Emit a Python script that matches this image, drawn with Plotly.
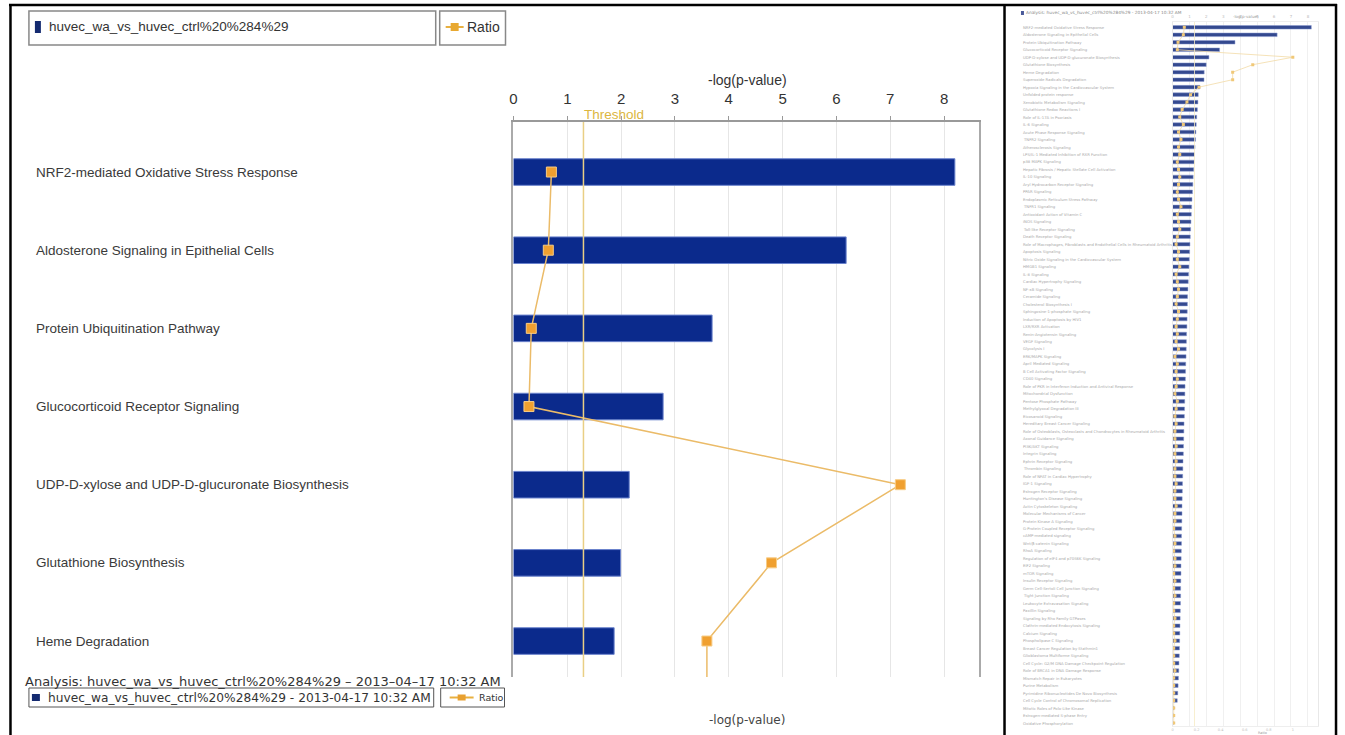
import plotly.graph_objects as go

# ---------------- data ----------------
pathways = [
    "NRF2-mediated Oxidative Stress Response",
    "Aldosterone Signaling in Epithelial Cells",
    "Protein Ubiquitination Pathway",
    "Glucocorticoid Receptor Signaling",
    "UDP-D-xylose and UDP-D-glucuronate Biosynthesis",
    "Glutathione Biosynthesis",
    "Heme Degradation",
    "Superoxide Radicals Degradation",
    "Hypoxia Signaling in the Cardiovascular System",
    "Unfolded protein response",
    "Xenobiotic Metabolism Signaling",
    "Glutathione Redox Reactions I",
    "Role of IL-17A in Psoriasis",
    "IL-6 Signaling",
    "Acute Phase Response Signaling",
    "TNFR2 Signaling",
    "Atherosclerosis Signaling",
    "LPS/IL-1 Mediated Inhibition of RXR Function",
    "p38 MAPK Signaling",
    "Hepatic Fibrosis / Hepatic Stellate Cell Activation",
    "IL-10 Signaling",
    "Aryl Hydrocarbon Receptor Signaling",
    "PPAR Signaling",
    "Endoplasmic Reticulum Stress Pathway",
    "TNFR1 Signaling",
    "Antioxidant Action of Vitamin C",
    "iNOS Signaling",
    "Toll-like Receptor Signaling",
    "Death Receptor Signaling",
    "Role of Macrophages, Fibroblasts and Endothelial Cells in Rheumatoid Arthritis",
    "Apoptosis Signaling",
    "Nitric Oxide Signaling in the Cardiovascular System",
    "HMGB1 Signaling",
    "IL-8 Signaling",
    "Cardiac Hypertrophy Signaling",
    "NF-κB Signaling",
    "Ceramide Signaling",
    "Cholesterol Biosynthesis I",
    "Sphingosine-1-phosphate Signaling",
    "Induction of Apoptosis by HIV1",
    "LXR/RXR Activation",
    "Renin-Angiotensin Signaling",
    "VEGF Signaling",
    "Glycolysis I",
    "ERK/MAPK Signaling",
    "April Mediated Signaling",
    "B Cell Activating Factor Signaling",
    "CD40 Signaling",
    "Role of PKR in Interferon Induction and Antiviral Response",
    "Mitochondrial Dysfunction",
    "Pentose Phosphate Pathway",
    "Methylglyoxal Degradation III",
    "Eicosanoid Signaling",
    "Hereditary Breast Cancer Signaling",
    "Role of Osteoblasts, Osteoclasts and Chondrocytes in Rheumatoid Arthritis",
    "Axonal Guidance Signaling",
    "PI3K/AKT Signaling",
    "Integrin Signaling",
    "Ephrin Receptor Signaling",
    "Thrombin Signaling",
    "Role of NFAT in Cardiac Hypertrophy",
    "IGF-1 Signaling",
    "Estrogen Receptor Signaling",
    "Huntington's Disease Signaling",
    "Actin Cytoskeleton Signaling",
    "Molecular Mechanisms of Cancer",
    "Protein Kinase A Signaling",
    "G-Protein Coupled Receptor Signaling",
    "cAMP-mediated signaling",
    "Wnt/β-catenin Signaling",
    "RhoA Signaling",
    "Regulation of eIF4 and p70S6K Signaling",
    "EIF2 Signaling",
    "mTOR Signaling",
    "Insulin Receptor Signaling",
    "Germ Cell-Sertoli Cell Junction Signaling",
    "Tight Junction Signaling",
    "Leukocyte Extravasation Signaling",
    "Paxillin Signaling",
    "Signaling by Rho Family GTPases",
    "Clathrin-mediated Endocytosis Signaling",
    "Calcium Signaling",
    "Phospholipase C Signaling",
    "Breast Cancer Regulation by Stathmin1",
    "Glioblastoma Multiforme Signaling",
    "Cell Cycle: G2/M DNA Damage Checkpoint Regulation",
    "Role of BRCA1 in DNA Damage Response",
    "Mismatch Repair in Eukaryotes",
    "Purine Metabolism",
    "Pyrimidine Ribonucleotides De Novo Biosynthesis",
    "Cell Cycle Control of Chromosomal Replication",
    "Mitotic Roles of Polo-Like Kinase",
    "Estrogen-mediated S-phase Entry",
    "Oxidative Phosphorylation",
]

neg_log_p = [
    8.20, 6.18, 3.69, 2.78, 2.15, 1.99, 1.87, 1.86, 1.62, 1.52, 1.50, 1.47, 1.43,
    1.40, 1.38, 1.36, 1.33, 1.30, 1.28, 1.25, 1.22, 1.20, 1.18, 1.15, 1.13, 1.11,
    1.09, 1.07, 1.05, 1.03, 1.01, 0.99, 0.97, 0.95, 0.93, 0.91, 0.89,
    0.88, 0.87, 0.86, 0.85, 0.83, 0.82, 0.81, 0.80, 0.78, 0.77, 0.76, 0.74, 0.73,
    0.72, 0.71, 0.70, 0.68, 0.67, 0.66, 0.65, 0.64, 0.62, 0.61, 0.60, 0.59, 0.58,
    0.57, 0.56, 0.56, 0.55, 0.54, 0.53, 0.53, 0.52, 0.51, 0.50, 0.50, 0.49, 0.48, 0.48,
    0.47, 0.46, 0.45, 0.44, 0.43, 0.42, 0.41, 0.40, 0.38, 0.37, 0.35, 0.33, 0.31, 0.28,
    0.09, 0.06, 0.04,
]

ratio = [
    0.098, 0.090, 0.046, 0.040, 1.000, 0.667, 0.500, 0.500, 0.220,
    0.15, 0.12, 0.08, 0.06, 0.09, 0.05, 0.07, 0.05, 0.06, 0.04, 0.05,
    0.06, 0.05, 0.04, 0.05, 0.07, 0.04, 0.05, 0.06, 0.04, 0.03,
    0.05, 0.04, 0.06, 0.03, 0.04, 0.05, 0.04, 0.03, 0.05, 0.04,
    0.03, 0.04, 0.03, 0.05, 0.02, 0.04, 0.03, 0.04, 0.03, 0.02,
    0.04, 0.03, 0.02, 0.03, 0.02, 0.02, 0.03, 0.02, 0.03, 0.02,
    0.02, 0.03, 0.02, 0.02, 0.03, 0.02, 0.02, 0.01, 0.02, 0.02,
    0.01, 0.02, 0.02, 0.01, 0.02, 0.01, 0.02, 0.01, 0.01, 0.02,
    0.01, 0.01, 0.02, 0.01, 0.01, 0.01, 0.02, 0.01, 0.01, 0.01,
    0.01, 0.01, 0.01, 0.01,
]

THRESHOLD = 1.3
neglog_ticks = [0, 1, 2, 3, 4, 5, 6, 7, 8]
ratio_ticks = [0, 0.2, 0.4, 0.6, 0.8, 1]
analysis_name = "huvec_wa_vs_huvec_ctrl%20%284%29"
analysis_stamp = "2013-04-17 10:32 AM"
LEFT_ROWS = 7

# ---------------- layout helpers ----------------
W, H = 1345, 735
def px(x):
    return x / W
def py(y):
    return 1 - y / H

NAVY = "#0b2a8c"
ORANGE = "#f0a030"
COND = "Liberation Sans, Arial, sans-serif"
SANS = "DejaVu Sans, Verdana, sans-serif"
PAD = 3  # annotation inner padding compensation (px)

fig = go.Figure()

# left (zoomed) panel
fig.add_trace(go.Bar(
    x=neg_log_p, y=pathways, orientation="h", xaxis="x", yaxis="y", width=0.34,
    marker=dict(color=NAVY, line=dict(color="#6a82cc", width=1)),
    showlegend=False, hoverinfo="x+y"))
fig.add_trace(go.Scatter(
    x=ratio, y=pathways, xaxis="x2", yaxis="y", mode="lines+markers",
    line=dict(color="#ebbb68", width=1.5),
    marker=dict(symbol="square", size=10, color=ORANGE, line=dict(color="#f7cc86", width=1)),
    showlegend=False))

# right (overview) panel
fig.add_trace(go.Bar(
    x=neg_log_p, y=pathways, orientation="h", xaxis="x3", yaxis="y3", width=0.48,
    marker=dict(color="#34498f", line=dict(color="#8a9ad0", width=0.5)),
    showlegend=False))
fig.add_trace(go.Scatter(
    x=ratio, y=pathways, xaxis="x4", yaxis="y3", mode="lines+markers",
    line=dict(color="#f2dba6", width=0.8),
    marker=dict(symbol="square", size=3, color="#f0c878"),
    showlegend=False))

left_dom_x = [px(511), px(978)]
left_dom_y = [py(677), py(122)]
right_dom_x = [px(1172), px(1318)]
right_dom_y = [py(726), py(22)]

fig.update_layout(
    width=W, height=H, autosize=False,
    margin=dict(l=0, r=0, t=0, b=0),
    paper_bgcolor="white", plot_bgcolor="white",
    barmode="overlay",
    xaxis=dict(domain=left_dom_x, anchor="y", side="top", range=[0, 8.65],
               tickvals=neglog_ticks, ticks="outside", ticklen=4, tickcolor="#999",
               ticklabelstandoff=6,
               tickfont=dict(family=COND, size=15, color="#333"),
               showgrid=True, gridcolor="#e6e6e6", gridwidth=1,
               showline=True, linecolor="#999", linewidth=1.5, zeroline=False, fixedrange=True),
    xaxis2=dict(overlaying="x", anchor="y", range=[0, 1.2036], visible=False),
    yaxis=dict(domain=left_dom_y, anchor="x", type="category",
               categoryorder="array", categoryarray=pathways,
               range=[6.46, -0.64], showticklabels=False, ticks="",
               showgrid=False, showline=True, mirror=True, linecolor="#aaa", linewidth=1.5,
               zeroline=False),
    xaxis3=dict(domain=right_dom_x, anchor="y3", side="top", range=[0, 8.6],
                tickvals=neglog_ticks, ticks="", ticklabelstandoff=1,
                tickfont=dict(family=SANS, size=4, color="#bbb"),
                showgrid=True, gridcolor="#f0f0f0", showline=True, linecolor="#eee",
                zeroline=False),
    xaxis4=dict(overlaying="x3", anchor="y3", side="bottom", range=[0, 1.21],
                tickvals=ratio_ticks, ticks="", ticklabelstandoff=0,
                tickfont=dict(family=SANS, size=3.5, color="#bbb"),
                showgrid=False, showline=True, linecolor="#eee", zeroline=False),
    yaxis3=dict(domain=right_dom_y, anchor="x3", type="category",
                categoryorder="array", categoryarray=pathways,
                range=[93.4, -0.71], showticklabels=False, ticks="",
                showgrid=False, showline=True, mirror=True, linecolor="#e8e8e8",
                zeroline=False),
)

shapes = []
ann = []

def text(t, x, y, size, family=COND, color="#333", anchor="left", **kw):
    xx = x - PAD if anchor == "left" else x
    ann.append(dict(text=t, x=px(xx), y=py(y), xref="paper", yref="paper",
                    xanchor=anchor, yanchor="middle", showarrow=False,
                    font=dict(family=family, size=size, color=color), **kw))

# threshold lines
shapes.append(dict(type="line", xref="x", yref="y domain", x0=THRESHOLD, x1=THRESHOLD,
                   y0=0, y1=1, line=dict(color="#e9cf85", width=1.5)))
shapes.append(dict(type="line", xref="x3", yref="y3 domain", x0=THRESHOLD, x1=THRESHOLD,
                   y0=0, y1=1, line=dict(color="#f6ebc4", width=0.8)))
ann.append(dict(text="Threshold", x=THRESHOLD, xref="x", y=py(115), yref="paper",
                xanchor="left", yanchor="middle", xshift=-1, showarrow=False,
                font=dict(family=COND, size=13.5, color="#dcb640")))

# axis titles
text("-log(p-value)", 746, 80, 14, anchor="center")
text("-log(p-value)", 745, 720, 12, family=SANS, color="#444", anchor="center")
text("-log(p-value)", 1246, 17, 4, family=SANS, color="#999", anchor="center")
text("Ratio", 1262, 733, 3.5, family=SANS, color="#999", anchor="center")

# left category labels (left-aligned)
for name in pathways[:LEFT_ROWS]:
    ann.append(dict(text=name, x=px(33 - PAD), xref="paper", y=name, yref="y",
                    xanchor="left", yanchor="middle", showarrow=False,
                    font=dict(family=COND, size=13.5, color="#3a3a3a")))

# right category labels
for name in pathways:
    ann.append(dict(text=name, x=px(1022 - 2), xref="paper", y=name, yref="y3",
                    xanchor="left", yanchor="middle", showarrow=False,
                    font=dict(family=SANS, size=3.8, color="#a8a8a8")))

# right panel title
text(f"Analysis: {analysis_name} - {analysis_stamp}", 1026, 13, 4.3, family=SANS, color="#888")
shapes.append(dict(type="rect", xref="paper", yref="paper", x0=px(1020), x1=px(1023),
                   y0=py(15), y1=py(11), fillcolor="#4a5a9a", line=dict(width=0)))

# top legend
shapes.append(dict(type="rect", xref="paper", yref="paper", x0=px(25), x1=px(433),
                   y0=py(45), y1=py(11), line=dict(color="#888", width=1.5), fillcolor="white"))
shapes.append(dict(type="rect", xref="paper", yref="paper", x0=px(437), x1=px(503),
                   y0=py(45), y1=py(11), line=dict(color="#888", width=1.5), fillcolor="white"))
shapes.append(dict(type="rect", xref="paper", yref="paper", x0=px(31), x1=px(37),
                   y0=py(33), y1=py(21), fillcolor="#142a70", line=dict(width=0)))
text(analysis_name, 46, 27, 13.5)
shapes.append(dict(type="line", xref="paper", yref="paper", x0=px(443), x1=px(461),
                   y0=py(27), y1=py(27), line=dict(color="#e8b040", width=2)))
shapes.append(dict(type="rect", xref="paper", yref="paper", x0=px(448), x1=px(456),
                   y0=py(31), y1=py(23), fillcolor="#e8a830", line=dict(width=0)))
text("Ratio", 465, 27, 14)

# bottom legend
text(f"Analysis: {analysis_name} – 2013–04–17 10:32 AM", 22, 681, 13, family=SANS, color="#333")
shapes.append(dict(type="rect", xref="paper", yref="paper", x0=px(25), x1=px(431),
                   y0=py(707), y1=py(688), line=dict(color="#555", width=1), fillcolor="white"))
shapes.append(dict(type="rect", xref="paper", yref="paper", x0=px(438), x1=px(502),
                   y0=py(707), y1=py(688), line=dict(color="#555", width=1), fillcolor="white"))
shapes.append(dict(type="rect", xref="paper", yref="paper", x0=px(28), x1=px(36),
                   y0=py(701), y1=py(694), fillcolor="#142a70", line=dict(width=0)))
text(f"{analysis_name} - {analysis_stamp}", 45, 697.5, 12.2, family=SANS)
shapes.append(dict(type="line", xref="paper", yref="paper", x0=px(447), x1=px(471),
                   y0=py(697.5), y1=py(697.5), line=dict(color="#e8b040", width=2)))
shapes.append(dict(type="rect", xref="paper", yref="paper", x0=px(455), x1=px(463),
                   y0=py(700.5), y1=py(694.5), fillcolor="#e8a030", line=dict(width=0)))
text("Ratio", 477, 697.5, 9.5, family=SANS)

# outer black frame
frame = dict(color="black", width=2.5)
shapes.append(dict(type="line", xref="paper", yref="paper", x0=px(5), x1=px(1337),
                   y0=py(5), y1=py(5), line=frame))
shapes.append(dict(type="line", xref="paper", yref="paper", x0=px(6.5), x1=px(6.5),
                   y0=py(4), y1=0, line=frame))
shapes.append(dict(type="line", xref="paper", yref="paper", x0=px(1003.5), x1=px(1003.5),
                   y0=py(4), y1=0, line=frame))
shapes.append(dict(type="line", xref="paper", yref="paper", x0=px(1336), x1=px(1336),
                   y0=py(4), y1=0, line=frame))

fig.update_layout(shapes=shapes, annotations=ann)
fig.write_html("out.html")
